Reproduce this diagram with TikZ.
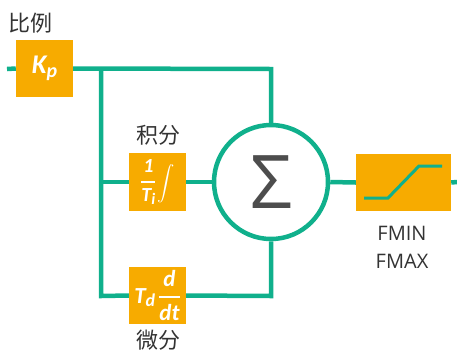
\documentclass[tikz,border=0pt]{standalone}
\usepackage{amsmath}
\usepackage{fontspec}
\setmainfont{Open Sans}
\newfontfamily\boxf{Carlito}
\newfontfamily\cjk{Noto Sans CJK SC}
\definecolor{grn}{RGB}{16,176,140}
\definecolor{org}{RGB}{247,171,0}
\definecolor{txt}{RGB}{51,51,51}
\definecolor{sig}{RGB}{77,77,77}
\begin{document}
\begin{tikzpicture}[x=1pt,y=-1pt,
  conn/.style={draw=grn,line width=4.5pt},
  blk/.style={fill=org,inner sep=0pt,text=white,font=\boxf\bfseries\itshape},
  lbl/.style={text=txt,inner sep=0pt,font=\fontsize{20}{20}\selectfont},
  cn/.style={text=txt,inner sep=0pt,font=\cjk\fontsize{22}{22}\selectfont},
]
\useasboundingbox (0,0) rectangle (457,354);
% blocks
\node[blk,minimum width=57pt,minimum height=57pt] (kp) at (44.5,68.5)
  {\fontsize{27}{27}\selectfont K\raisebox{-0.3ex}{\fontsize{20}{20}\selectfont p}};
\node[blk,minimum width=57pt,minimum height=58pt] (int) at (157.5,182)
  {\fontsize{20}{20}\selectfont$\genfrac{}{}{1.7pt}{0}{\text{1}}{\text{T\raisebox{-0.3ex}{\fontsize{16}{16}\selectfont i}}}$\hspace{1pt}\raisebox{-0.1ex}{\fontsize{19}{19}\selectfont$\displaystyle\int$}};
\node[blk,minimum width=57pt,minimum height=57pt] (der) at (157.5,295.5)
  {\fontsize{23}{23}\selectfont T\raisebox{-0.3ex}{\fontsize{18}{18}\selectfont d}\hspace{3pt}$\genfrac{}{}{1.7pt}{0}{\text{d}}{\text{dt}}$};
\node[circle,draw=grn,line width=4.5pt,fill=white,minimum size=114pt,inner sep=0pt,
  text=sig,font=\fontsize{74}{74}\selectfont] (sum) at (271,182) {Σ};
\node[fill=org,minimum width=95pt,minimum height=57pt,inner sep=0pt] (lim) at (403.5,182.5) {};
\draw[grn,line width=3pt] (364,198) -- (388,198) -- (419,166) -- (442,166);
% coordinates
\coordinate (in) at (7,69);
\coordinate (tl) at (101,69);
\coordinate (tr) at (271,69);
\coordinate (ml) at (101,182);
\coordinate (bl) at (101,296);
\coordinate (br) at (271,296);
\coordinate (out) at (457,182);
% connectors
\draw[conn] (in) -- (kp.west);
\draw[conn] (kp.east) -- (tr) -- (sum.north);
\draw[conn] (tl) -- (bl) -- (der.west);
\draw[conn] (der.east) -- (br) -- (sum.south);
\draw[conn] (ml) -- (int.west);
\draw[conn] (int.east) -- (sum.west);
\draw[conn] (sum.east) -- (lim.west);
\draw[conn] (lim.east) -- (out);
% labels
\node[cn] (l1) at (31,23) {比例};
\node[cn] (l2) at (158,135) {积分};
\node[cn] (l3) at (158,340) {微分};
\node[lbl] (l4) at (402,233) {FMIN};
\node[lbl] (l5) at (402,261) {FMAX};
\end{tikzpicture}
\end{document}
